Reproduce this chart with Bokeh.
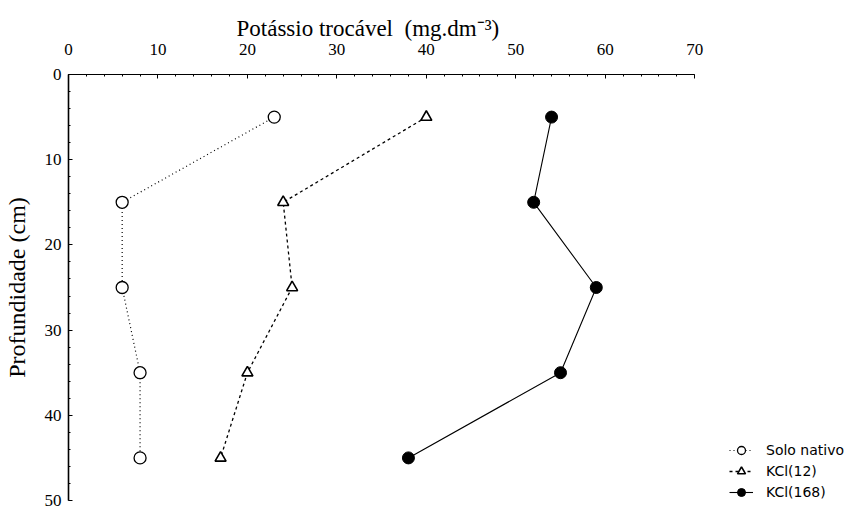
from bokeh.plotting import figure
from bokeh.models import Range1d, FixedTicker, Legend, LegendItem
from bokeh.embed import file_html
from bokeh.resources import INLINE

# data
depth = [5, 15, 25, 35, 45]
solo_nativo = [23, 6, 6, 8, 8]
kcl_12 = [40, 24, 25, 20, 17]
kcl_168 = [54, 52, 59, 55, 38]
x_ticks = [0, 10, 20, 30, 40, 50, 60, 70]
y_ticks = [0, 10, 20, 30, 40, 50]
series_labels = ["Solo nativo", "KCl(12)", "KCl(168)"]
x_title = "Potássio trocável\u00a0 (mg.dm\u207b\u00b3)"
y_title = "Profundidade (cm)"

SERIF = "Liberation Serif"

p = figure(width=857, height=510, output_backend="svg", toolbar_location=None,
           x_range=Range1d(0, 88.2), y_range=Range1d(50, 0),
           x_axis_location="above",
           min_border_left=64, min_border_top=74, min_border_right=0, min_border_bottom=10)
p.outline_line_color = None
p.xgrid.visible = False
p.ygrid.visible = False
p.background_fill_color = "white"

p.title.text = x_title
p.title.align = "left"
p.title.offset = 168
p.title.text_font = SERIF
p.title.text_font_size = "23px"
p.title.text_font_style = "normal"
p.title.text_color = "black"
p.title.standoff = 0

xa = p.xaxis[0]
xa.bounds = (0, 70)
xa.ticker = FixedTicker(ticks=x_ticks, minor_ticks=list(range(0, 71, 2)))
ya = p.yaxis[0]
ya.bounds = (0, 50)
ya.ticker = FixedTicker(ticks=y_ticks, minor_ticks=list(range(0, 51, 2)))
for ax in (xa, ya):
    ax.major_tick_in = 4
    ax.major_tick_out = 0
    ax.minor_tick_in = 2
    ax.minor_tick_out = 0
    ax.axis_line_color = "black"
    ax.major_tick_line_color = "black"
    ax.minor_tick_line_color = "black"
    ax.major_label_text_font = SERIF
    ax.major_label_text_font_size = "17px"
    ax.major_label_text_color = "black"
    ax.axis_label_text_font = SERIF
    ax.axis_label_text_font_size = "24px"
    ax.axis_label_text_font_style = "normal"
    ax.axis_label_text_color = "black"
xa.axis_line_width = 1
ya.axis_line_width = 1.6
xa.major_label_standoff = 20
ya.major_label_standoff = 7
ya.axis_label = y_title
ya.axis_label_standoff = 12

r1 = p.line(solo_nativo, depth, line_color="black", line_width=1.2, line_dash="1 3")
s1 = p.scatter(solo_nativo, depth, marker="circle", size=12, fill_color="white",
               line_color="black", line_width=1.3)
r2 = p.line(kcl_12, depth, line_color="black", line_width=1.3, line_dash="3 3")
s2 = p.scatter(kcl_12, depth, marker="triangle", size=11, fill_color="white",
               line_color="black", line_width=1.6)
r3 = p.line(kcl_168, depth, line_color="black", line_width=1.1)
s3 = p.scatter(kcl_168, depth, marker="circle", size=12, fill_color="black",
               line_color="black")

legend = Legend(items=[LegendItem(label=series_labels[0], renderers=[r1, s1]),
                       LegendItem(label=series_labels[1], renderers=[r2, s2]),
                       LegendItem(label=series_labels[2], renderers=[r3, s3])],
                location=(661, -2), border_line_color=None, background_fill_alpha=0,
                padding=0, margin=0, spacing=1, glyph_width=24, glyph_height=20,
                label_height=20, label_standoff=13,
                label_text_font="DejaVu Sans", label_text_font_size="14px",
                label_text_color="black")
p.add_layout(legend)

open("out.html", "w").write(file_html(p, INLINE))
